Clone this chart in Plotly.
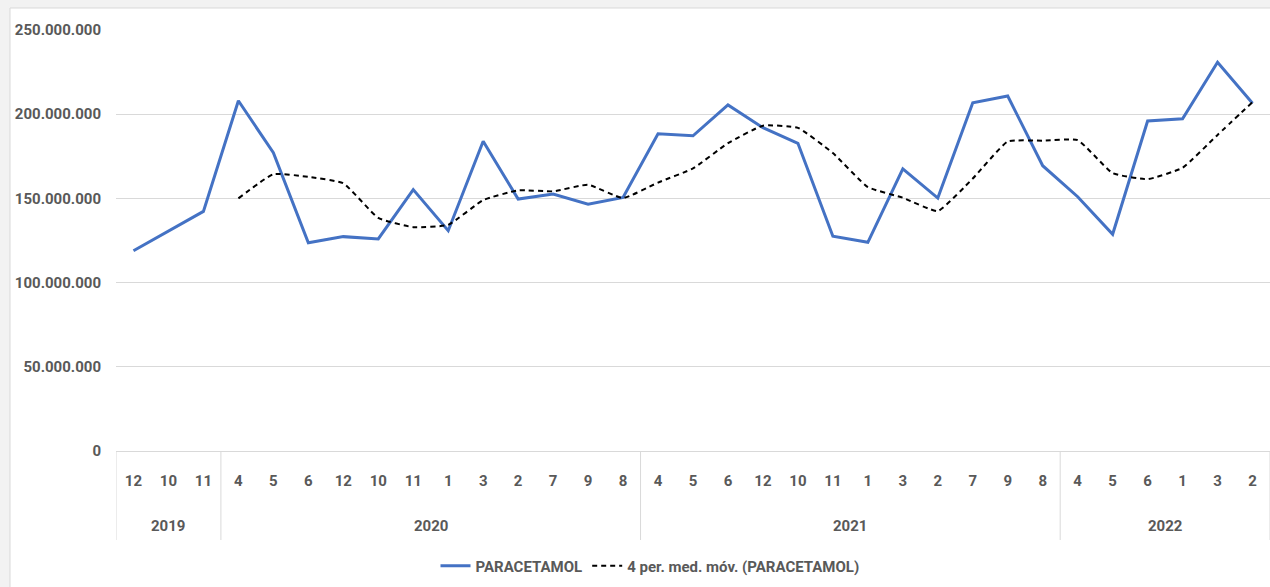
import plotly.graph_objects as go

# ---------------- data ----------------
years = ["2019"] * 3 + ["2020"] * 12 + ["2021"] * 12 + ["2022"] * 6
months = ["12", "10", "11",
          "4", "5", "6", "12", "10", "11", "1", "3", "2", "7", "9", "8",
          "4", "5", "6", "12", "10", "11", "1", "3", "2", "7", "9", "8",
          "4", "5", "6", "1", "3", "2"]
paracetamol = [118.9e6, 130.8e6, 142.3e6,
               208.0e6, 177.1e6, 123.7e6, 127.3e6, 125.9e6, 155.2e6, 130.8e6,
               183.9e6, 149.6e6, 152.6e6, 146.5e6, 150.6e6,
               188.4e6, 187.2e6, 205.5e6, 192.0e6, 182.7e6, 127.5e6, 123.9e6,
               167.5e6, 150.2e6, 206.8e6, 210.8e6, 169.4e6,
               151.0e6, 128.7e6, 196.0e6, 197.3e6, 230.8e6, 206.5e6]
moving_avg = [None, None, None,
              150.0e6, 164.4e6, 162.8e6, 159.0e6, 138.4e6, 132.9e6, 134.3e6,
              149.0e6, 154.8e6, 154.2e6, 158.1e6, 150.2e6,
              159.4e6, 167.8e6, 182.8e6, 193.2e6, 191.9e6, 176.9e6, 156.7e6,
              150.4e6, 142.5e6, 161.8e6, 183.8e6, 184.3e6,
              184.6e6, 165.0e6, 161.4e6, 168.2e6, 187.7e6, 207.2e6]
series_names = ["PARACETAMOL", "4 per. med. móv. (PARACETAMOL)"]
y_ticks = [0, 50e6, 100e6, 150e6, 200e6, 250e6]

idx = list(range(len(months)))

# year groups: (label, first index, last index)
groups = []
for i, y in enumerate(years):
    if groups and groups[-1][0] == y:
        groups[-1][2] = i
    else:
        groups.append([y, i, i])

FONT = "Roboto, Liberation Sans Narrow, sans-serif"
GREY = "#595959"
FS = 15
DIV = "#d9d9d9"

fig = go.Figure()
fig.add_trace(go.Scatter(x=idx, y=paracetamol, mode="lines", name=series_names[0],
                         line=dict(color="#4472C4", width=3)))
fig.add_trace(go.Scatter(x=idx, y=moving_avg, mode="lines", name=series_names[1],
                         line=dict(color="#000000", width=2, dash="5px,4px",
                                   shape="spline", smoothing=0.4),
                         connectgaps=False))

W, H = 1270, 587
L, R, T, B = 116, 0, 30, 136
pw, ph = W - L - R, H - T - B

# white chart area on light grey page
fig.add_shape(type="rect", xref="paper", yref="paper", layer="below",
              x0=(10 - L) / pw, x1=(W + 20 - L) / pw,
              y0=-(H + 20 - (H - B)) / ph, y1=(H - B - 8) / ph,
              fillcolor="white", line=dict(color=DIV, width=1))

# year group dividers and labels
div_bottom = -(540 - (H - B)) / ph
year_y = -(526 - (H - B)) / ph
for label, a, b in groups:
    fig.add_shape(type="line", xref="x", yref="paper",
                  x0=a - 0.5, x1=a - 0.5, y0=0, y1=div_bottom,
                  line=dict(color=DIV, width=1))
    fig.add_annotation(x=(a + b) / 2, y=year_y, xref="x", yref="paper",
                       text=label, showarrow=False, yanchor="middle",
                       font=dict(family=FONT, color=GREY, size=FS, weight="bold"))
fig.add_shape(type="line", xref="x", yref="paper",
              x0=groups[-1][2] + 0.5, x1=groups[-1][2] + 0.5, y0=0, y1=div_bottom,
              line=dict(color=DIV, width=1))

fig.update_layout(
    width=W, height=H,
    margin=dict(l=L, r=R, t=T, b=B, pad=0),
    paper_bgcolor="#f2f2f2", plot_bgcolor="rgba(0,0,0,0)",
    separators=",.",
    font=dict(family=FONT, color=GREY, size=FS, weight="bold"),
    showlegend=True,
    legend=dict(orientation="h", x=(650 - L) / pw, xanchor="center",
                y=(H - B - 566) / ph, yanchor="middle",
                font=dict(family=FONT, color=GREY, size=FS, weight="bold"),
                bgcolor="rgba(0,0,0,0)", itemwidth=30),
    xaxis=dict(range=[-0.5, len(months) - 0.5], tickvals=idx, ticktext=months,
               showgrid=False, showline=True, zeroline=False,
               linecolor=DIV, linewidth=1, ticks="",
               ticklabelstandoff=16,
               tickfont=dict(family=FONT, color=GREY, size=FS, weight="bold")),
    yaxis=dict(range=[0, 250e6], tickvals=y_ticks, tickformat=",d",
               showgrid=True, gridcolor=DIV, gridwidth=1,
               zeroline=False, showline=False, ticks="",
               ticklabelstandoff=14,
               tickfont=dict(family=FONT, color=GREY, size=FS, weight="bold")),
)

fig.write_html("out.html", config={"displayModeBar": False},
               post_script="document.body.style.margin='0';")
